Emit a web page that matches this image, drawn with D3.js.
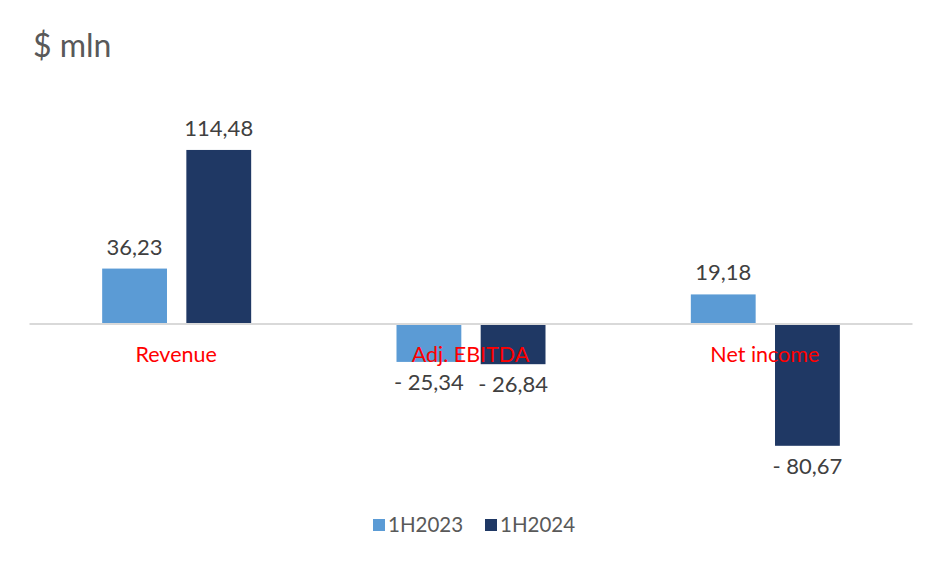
<!DOCTYPE html>
<html><head><meta charset="utf-8">
<script src="https://cdn.jsdelivr.net/npm/d3@7"></script>
<style>body{margin:0;background:#fff}svg{display:block}</style>
</head><body>
<svg id="c" width="941" height="563"></svg>
<script>
const categories = ["Revenue", "Adj. EBITDA", "Net income"];
const seriesNames = ["1H2023", "1H2024"];
const values1H2023 = [36.23, -25.34, 19.18];
const values1H2024 = [114.48, -26.84, -80.67];
const colors = ["#5B9BD5", "#1F3864"];

const svg = d3.select("#c");
const font = "Lato, 'Open Sans', sans-serif";
const data = categories.map((c, i) => ({cat: c, vals: [values1H2023[i], values1H2024[i]]}));

const x0 = d3.scaleBand().domain(categories).range([29, 912]).paddingInner(0).paddingOuter(0);
const x1 = d3.scaleBand().domain(seriesNames).range([x0.bandwidth()/2 - 74, x0.bandwidth()/2 + 75]).paddingInner(0.23);
const y = d3.scaleLinear().domain([-100, 150]).range([323.5 + 100*1.516, 323.5 - 150*1.516]);

svg.append("text").attr("x", 33).attr("y", 57).attr("font-family", font).attr("font-size", 32)
  .attr("fill", "#595959").text("$ mln");

const fmt = v => (v < 0 ? "- " : "") + Math.abs(v).toFixed(2).replace(".", ",");

const g = svg.selectAll("g.grp").data(data).join("g").attr("class", "grp")
  .attr("transform", d => `translate(${x0(d.cat)},0)`);

g.selectAll("rect").data(d => d.vals.map((v, i) => ({v, s: seriesNames[i], i})))
  .join("rect")
  .attr("x", d => x1(d.s)).attr("width", x1.bandwidth())
  .attr("y", d => Math.min(y(d.v), y(0))).attr("height", d => Math.abs(y(d.v) - y(0)))
  .attr("fill", d => colors[d.i]);

// axis line
svg.append("g").attr("transform", `translate(0,${y(0)})`)
  .call(d3.axisBottom(x0).tickSize(0).tickFormat(""))
  .call(a => a.select(".domain").attr("stroke", "#d9d9d9").attr("stroke-width", 2));

g.selectAll("text.val").data(d => d.vals.map((v, i) => ({v, s: seriesNames[i], i})))
  .join("text").attr("class", "val")
  .attr("x", d => x1(d.s) + x1.bandwidth()/2)
  .attr("y", d => d.v >= 0 ? y(d.v) - 14 : y(d.v) + 28)
  .attr("text-anchor", "middle").attr("font-family", font).attr("font-size", 22)
  .attr("fill", "#404040").text(d => fmt(d.v));

// category labels
svg.selectAll("text.cat").data(categories).join("text").attr("class", "cat")
  .attr("x", d => x0(d) + x0.bandwidth()/2).attr("y", 362)
  .attr("text-anchor", "middle").attr("font-family", font).attr("font-size", 21.5)
  .attr("fill", "#FF0000").text(d => d);

// legend
const legX = [373, 485];
const lg = svg.selectAll("g.leg").data(seriesNames).join("g").attr("class", "leg")
  .attr("transform", (d, i) => `translate(${legX[i]},519)`);
lg.append("rect").attr("width", 12).attr("height", 12).attr("fill", (d, i) => colors[i]);
lg.append("text").attr("x", 15).attr("y", 13).attr("font-family", font).attr("font-size", 20.5)
  .attr("fill", "#595959").text(d => d);
</script>
</body></html>
